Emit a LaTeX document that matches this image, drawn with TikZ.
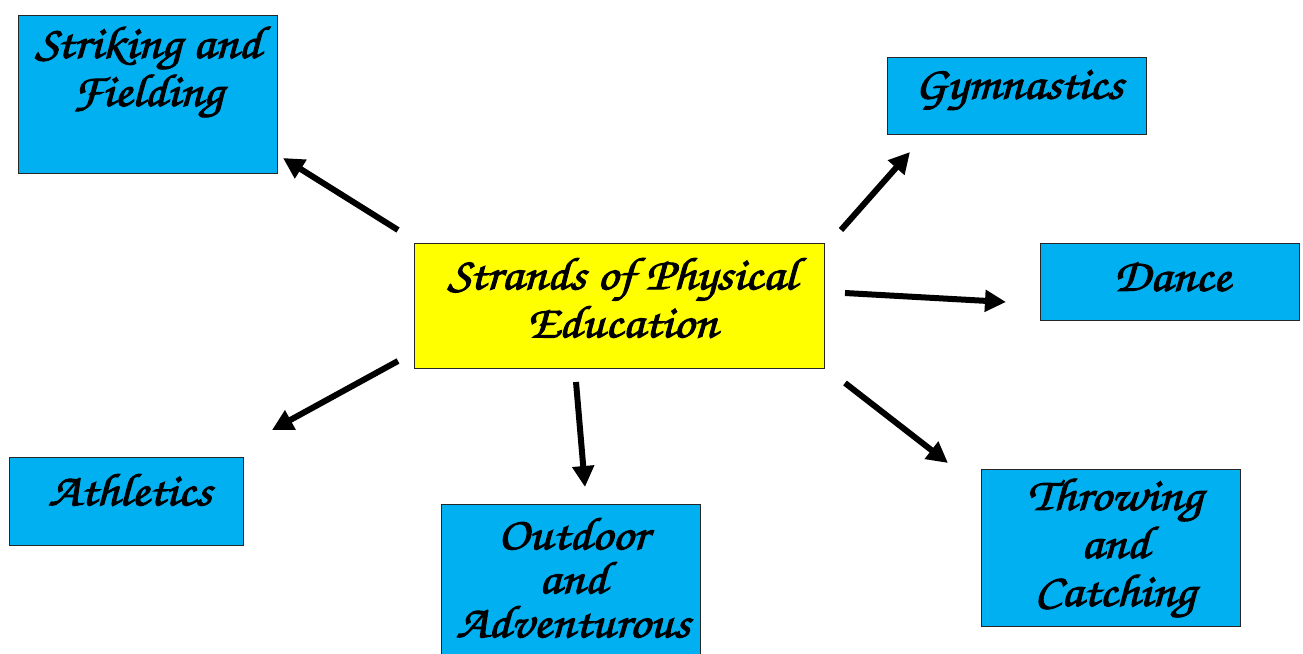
\documentclass[tikz,border=0pt]{standalone}
\usepackage{fontspec}
\setmainfont{texgyrechorus-mediumitalic.otf}[FakeBold=2.2,FakeStretch=1.12]
\usetikzlibrary{arrows.meta}
\definecolor{boxblue}{HTML}{00B0F0}
\definecolor{boxyellow}{HTML}{FFFF00}
\tikzset{
  bluebox/.style={draw=black!85, line width=1pt, fill=boxblue, anchor=north west, inner sep=0pt},
  yellowbox/.style={draw=black!85, line width=1pt, fill=boxyellow, anchor=north west, inner sep=0pt},
  lbl/.style={align=center, inner sep=0pt, font=\fontsize{46}{48}\selectfont},
  arr/.style={line width=6pt, -{Triangle[length=21pt,width=21pt]}},
}
\begin{document}
\begin{tikzpicture}[x=1pt,y=-1pt]
\useasboundingbox (0,0) rectangle (1303,653);
\clip (0,0) rectangle (1303,653);
\fill[white] (0,0) rectangle (1303,653);
% boxes
\node[bluebox, minimum width=259pt, minimum height=158pt] (sf) at (18,15) {};
\node[bluebox, minimum width=259pt, minimum height=77pt] (gy) at (887,57) {};
\node[yellowbox, minimum width=410pt, minimum height=125pt] (pe) at (414,243) {};
\node[bluebox, minimum width=259pt, minimum height=77pt] (da) at (1040,243) {};
\node[bluebox, minimum width=234pt, minimum height=88pt] (at) at (9,457) {};
\node[bluebox, minimum width=259pt, minimum height=170pt] (oa) at (441,504) {};
\node[bluebox, minimum width=259pt, minimum height=157pt] (tc) at (981,469) {};
% labels
\node[lbl] (sft) at (148,72) {Striking and\\Fielding};
\node[lbl] (gyt) at (1019,90) {Gymnastics};
\node[lbl] (pet) at (622,298) {Strands of Physical\\Education};
\node[lbl] (dat) at (1172,277) {Dance};
\node[lbl] (att) at (130,490) {Athletics};
\node[lbl, font=\fontsize{46}{44}\selectfont] (oat) at (573,578) {Outdoor\\and\\Adventurous};
\node[lbl] (tct) at (1115,548) {Throwing\\and\\Catching};
% arrow end points
\coordinate (s1) at (398,230); \coordinate (e1) at (283,158);
\coordinate (s2) at (841,230); \coordinate (e2) at (910,152);
\coordinate (s3) at (845,293); \coordinate (e3) at (1006,302);
\coordinate (s4) at (845,383); \coordinate (e4) at (948,463);
\coordinate (s5) at (576,382); \coordinate (e5) at (585,487);
\coordinate (s6) at (398,361); \coordinate (e6) at (272,430);
\draw[arr] (s1) -- (e1);
\draw[arr] (s2) -- (e2);
\draw[arr] (s3) -- (e3);
\draw[arr] (s4) -- (e4);
\draw[arr] (s5) -- (e5);
\draw[arr] (s6) -- (e6);
\end{tikzpicture}
\end{document}
